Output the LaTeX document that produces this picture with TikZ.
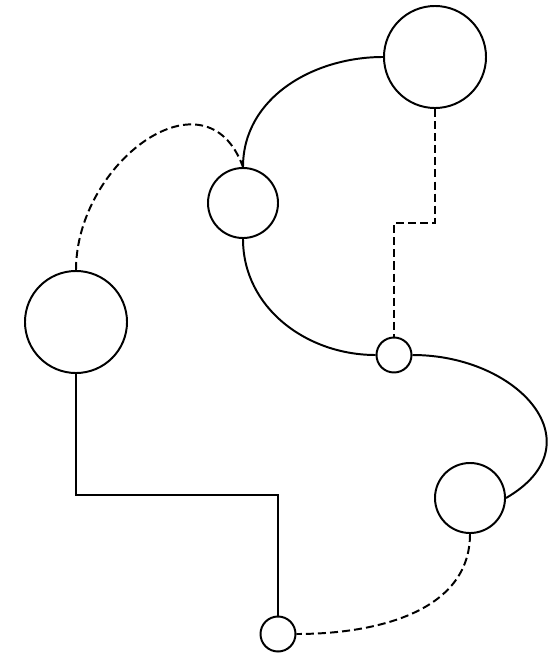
\documentclass[tikz,border=0pt]{standalone}
\usetikzlibrary{calc}
\begin{document}
\begin{tikzpicture}[
  x=0.025cm,y=-0.025cm,
  every node/.style={circle,draw,line width=1.4pt,inner sep=0pt},
  big/.style={minimum size=2.55cm},
  mid/.style={minimum size=1.75cm},
  small/.style={minimum size=0.875cm},
  link/.style={line width=1.4pt},
  weak/.style={line width=1.4pt,dash pattern=on 5.7pt off 2.9pt}
]
  \useasboundingbox (0,0) rectangle (552,657);

  \node[big] (A) at (435,57) {};
  \node[mid] (B) at (243,203) {};
  \node[big] (C) at (76,322) {};
  \node[small] (D) at (394,355) {};
  \node[mid] (E) at (470,498) {};
  \node[small] (F) at (278,634) {};

  % curved links
  \draw[link] (A.west) to[out=180,in=90] (B.north);
  \draw[weak] (C.north) to[out=90,in=110,looseness=1.4] (B.north);
  \draw[link] (B.south) to[out=-90,in=180] (D.west);
  \draw[link] (D.east) to[out=0,in=30,looseness=1.6] (E.east);
  \draw[weak] (E.south) to[out=-90,in=0] (F.east);

  % elbow links
  \draw[weak] (A.south) |- ($(A.south)!0.5!(D.north)$) -| (D.north);
  \draw[link] (C.south) |- ($(C.south)!0.5!(F.north)$) -| (F.north);
\end{tikzpicture}
\end{document}
